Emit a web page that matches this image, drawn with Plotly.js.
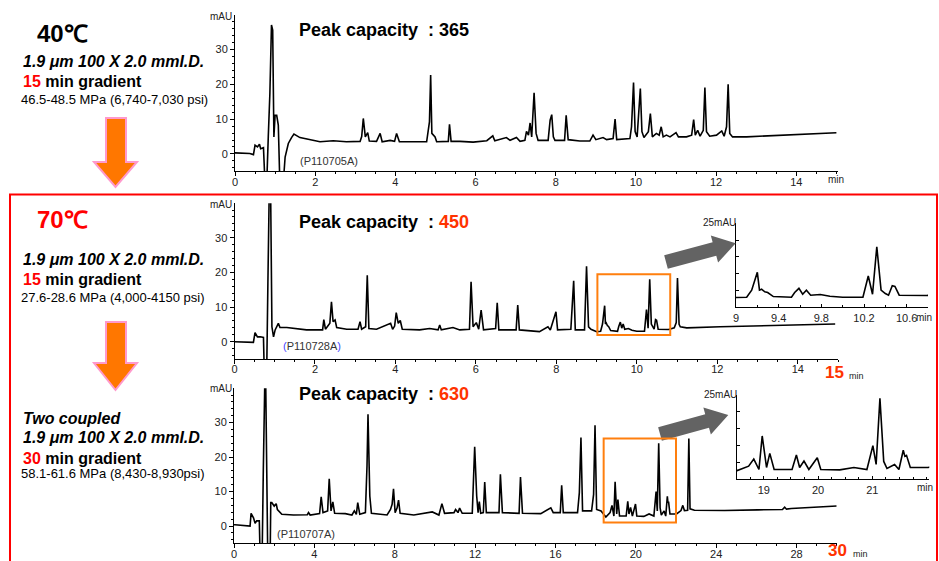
<!DOCTYPE html>
<html><head><meta charset="utf-8">
<script src="https://cdn.plot.ly/plotly-3.0.1.min.js"></script>
<style>html,body{margin:0;padding:0;background:#fff}#chart{width:939px;height:561px}</style>
</head><body><div id="chart"></div>
<script>
// ---- Data ----
// 40 C, 15 min gradient (P110705A)
const run40_t   = [0.0,0.04,0.37,0.46,0.5,0.56,0.61,0.64,0.71,0.75,0.79,0.83,0.87,0.91,0.94,0.97,1.0,1.04,1.08,1.12,1.2,1.25,1.33,1.41,1.47,1.62,1.87,2.12,2.45,2.78,3.12,3.16,3.2,3.25,3.31,3.35,3.53,3.62,3.67,3.87,3.98,4.03,4.1,4.45,4.78,4.85,4.88,4.91,4.99,5.03,5.32,5.35,5.39,5.61,5.94,6.28,6.43,6.48,6.77,6.86,7.02,7.11,7.23,7.27,7.32,7.36,7.4,7.46,7.51,7.56,7.81,7.86,7.9,7.94,7.98,8.22,8.26,8.31,8.6,8.85,8.93,9.0,9.18,9.27,9.43,9.48,9.52,9.85,9.89,9.94,9.98,10.03,10.07,10.11,10.15,10.2,10.31,10.36,10.41,10.51,10.58,10.63,10.68,10.76,10.85,11.0,11.06,11.26,11.39,11.44,11.48,11.54,11.6,11.68,11.72,11.76,11.84,12.01,12.14,12.2,12.26,12.3,12.34,12.41,12.76,13.26,13.92,14.42,15.0];
const run40_mAU = [0.3,0.3,0.1,-0.2,2.5,2.0,2.8,1.5,1.8,-9,-9,4.9,17.4,37.1,35.6,4.9,11.1,11.1,8.3,-9,-9,-0.9,3.0,4.7,5.7,4.7,4.1,3.5,3.8,3.5,3.6,5.0,10.2,4.9,6.1,3.7,3.6,5.9,3.5,3.9,3.6,5.9,3.5,3.6,3.5,9.2,22.7,5.9,4.9,3.5,3.6,8.5,3.6,3.6,3.4,3.8,5.2,3.8,4.7,3.9,4.7,3.6,3.9,6.5,5.4,8.9,4.9,17.6,5.9,3.9,3.9,9.7,11.3,4.9,3.9,3.9,11.1,4.1,3.7,3.7,5.4,4.1,4.7,4.1,4.4,10.0,4.1,4.4,7.8,20.5,6.4,4.9,12.6,18.8,6.4,4.7,6.4,11.6,4.9,5.9,5.4,7.8,4.9,5.4,4.9,6.1,4.9,4.9,5.4,9.9,5.4,6.8,5.1,6.8,19.1,6.4,5.1,5.4,6.6,5.1,7.8,20.0,5.9,4.9,4.9,5.2,5.6,5.9,6.1];

// 70 C, 15 min gradient (P110728A)
const run70_t   = [0.0,0.06,0.47,0.51,0.57,0.64,0.72,0.74,0.8,0.83,0.86,0.9,0.93,0.97,1.01,1.09,1.13,1.3,1.55,1.79,2.04,2.19,2.22,2.26,2.37,2.41,2.45,2.5,2.54,2.79,3.07,3.12,3.16,3.26,3.3,3.34,3.53,3.88,3.93,3.98,4.02,4.07,4.12,4.17,4.6,4.85,5.06,5.1,5.14,5.43,5.6,5.84,5.88,5.93,6.01,6.07,6.13,6.19,6.49,6.53,6.57,7.0,7.04,7.08,7.58,7.79,7.85,7.99,8.03,8.36,8.43,8.47,8.7,8.75,8.8,8.86,9.0,9.1,9.147,9.2,9.22,9.24,9.27,9.297,9.35,9.52,9.55,9.59,9.625,9.66,9.70,9.79,9.88,10.0,10.19,10.24,10.28,10.32,10.36,10.40,10.43,10.465,10.49,10.53,10.7,10.79,10.93,10.98,11.01,11.05,11.08,11.24,12.07,12.9,13.73,14.56,14.93];
const run70_mAU = [0,0,-0.2,2.6,1.4,1.4,1.25,-9,-9,16.8,41,41,4.3,1.4,3.4,5.3,4.1,4.1,3.7,3.4,3.4,3.4,6.4,3.6,5.3,11.5,5.8,6.25,4.1,3.6,3.6,5.8,3.6,4.3,19.2,3.8,3.6,5.3,3.6,4.5,8.4,5.3,6.1,3.6,3.4,3.8,3.4,4.8,3.4,4.1,3.4,3.6,17.3,4.3,5.5,3.6,9.1,3.4,3.8,11.25,3.4,3.4,10.6,3.4,2.9,4.3,3.4,8.65,3.4,3.6,17.6,3.4,3.4,21.8,4.3,3.6,2.9,3.0,5.1,10.4,5.1,5.4,4.6,4.4,3.2,3.0,4.4,5.65,3.9,5.1,3.6,3.8,3.3,3.0,3.0,9.3,3.9,18.0,5.1,4.1,3.6,6.4,6.2,3.6,3.4,3.5,4.0,5.5,18.4,5.0,4.3,4.0,4.3,4.5,4.6,5.0,5.1];

// Two coupled columns, 30 min gradient (P110707A)
const run2col_t   = [0.0,0.05,0.8,0.85,0.97,1.05,1.13,1.26,1.3,1.4,1.46,1.53,1.58,1.63,1.68,1.8,1.83,1.88,2.0,2.1,2.16,2.38,2.96,3.65,3.71,3.79,4.26,4.34,4.43,4.66,4.74,4.83,4.92,5.01,5.54,5.87,5.99,6.09,6.16,6.26,6.54,6.62,6.67,6.76,6.84,7.62,7.79,7.87,7.94,8.02,8.12,8.19,8.27,8.95,9.62,9.87,10.2,10.35,10.48,10.95,11.03,11.15,11.23,11.36,11.86,11.98,12.08,12.15,12.21,12.28,12.41,12.48,12.56,13.19,13.26,13.36,14.19,14.26,14.36,15.27,15.77,15.89,16.24,16.31,16.39,17.1,17.19,17.27,17.35,17.8,17.9,17.97,18.05,18.27,18.51,18.72,18.815,18.91,18.97,19.05,19.11,19.19,19.52,19.60,19.66,19.74,19.83,19.985,20.05,20.4,20.66,20.9,21.01,21.07,21.14,21.21,21.27,21.41,21.49,21.57,21.60,21.63,21.70,21.85,22.03,22.25,22.34,22.42,22.58,22.64,22.7,22.92,24.42,26.08,27.3,27.41,27.5,27.74,30.0];
const run2col_mAU = [0.4,0.4,0,3.7,2.4,0.8,1.5,1.5,-9,-9,16.5,41,41,9.2,-9,-9,6.8,6.8,5.8,6.5,4.8,3.4,3.2,3.3,3.9,3.2,3.6,8.5,3.9,4.4,13.7,4.4,7.0,3.7,3.6,3.2,4.4,3.4,6.8,3.4,3.9,17.4,32.4,8.7,3.7,3.2,4.8,6.3,10.8,3.9,5.3,7.5,3.7,3.2,3.7,4.1,3.2,6.5,3.7,3.9,4.8,3.9,5.2,3.7,3.7,23.0,8.7,3.9,7.1,3.7,3.9,12.8,3.9,3.9,15.0,3.9,3.7,14.2,3.7,3.6,5.3,3.9,3.9,11.8,3.9,3.9,9.7,25.7,4.4,4.4,9.2,29.2,4.8,4.4,2.6,3.9,6.0,2.9,12.85,3.5,7.7,2.9,2.9,7.2,3.5,5.4,2.9,6.4,2.9,2.8,3.5,2.9,10.0,4.4,24.0,5.3,3.2,4.4,2.9,8.6,6.8,7.1,3.5,3.5,3.5,4.5,6.0,4.5,4.6,25.4,5.0,4.6,4.5,4.7,4.8,5.5,4.9,5.1,5.8];

// Tick labels
const ticks15 = [0,2,4,6,8,10,12,14];
const ticks30 = [0,4,8,12,16,20,24,28];
const ticksY  = [0,10,20,30];
const ticksInset70 = [9,9.4,9.8,10.2,10.6];
const ticksInset2col = [19,20,21];

// ---- Layout helpers ----
const W = 939, H = 561;
const FONT = 'Liberation Sans, Arial, sans-serif';
const px = x => x / W;
const py = y => 1 - y / H;
const poly = pts => 'M' + pts.map(p => px(p[0]).toFixed(5) + ',' + py(p[1]).toFixed(5)).join(' L') + ' Z';

function arrowPts(tail, tip, hw, HW, HL) {
  const dx = tip[0]-tail[0], dy = tip[1]-tail[1], L = Math.hypot(dx, dy);
  const u = [dx/L, dy/L], n = [-u[1], u[0]];
  const h = [tip[0]-HL*u[0], tip[1]-HL*u[1]];
  const off = (p, k) => [p[0]+k*n[0], p[1]+k*n[1]];
  return [off(tail,-hw), off(h,-hw), off(h,-HW), tip, off(h,HW), off(h,hw), off(tail,hw)];
}

const tickFont = {family: FONT, size: 11, color: '#222'};
const axBase = {showgrid:false, zeroline:false, showline:true, linecolor:'#000', linewidth:1,
  ticks:'outside', ticklen:4, tickcolor:'#000', tickfont:tickFont, fixedrange:true, automargin:false};

function mainX(dom, range, vals, minorD, anchor) {
  return Object.assign({}, axBase, {domain:dom, range:range, anchor:anchor, tickmode:'array', tickvals:vals,
    ticklabelstandoff:-4,
    minor:{dtick:minorD, tick0:0, ticks:'outside', ticklen:2, tickcolor:'#000'}});
}
function mainY(dom, anchor) {
  return Object.assign({}, axBase, {domain:dom, range:[-5,39.95], anchor:anchor, tickmode:'array', tickvals:ticksY,
    minor:{dtick:2, tick0:0, ticks:'outside', ticklen:2, tickcolor:'#000'}});
}
function insetX(dom, range, vals, minorD, tick0, anchor) {
  return Object.assign({}, axBase, {domain:dom, range:range, anchor:anchor, ticks:'inside', ticklen:3,
    tickmode:'array', tickvals:vals, tickfont:{family:FONT, size:11, color:'#222'},
    minor:{dtick:minorD, tick0:tick0, ticks:'inside', ticklen:2, tickcolor:'#000'}});
}
function insetY(dom, anchor) {
  return Object.assign({}, axBase, {domain:dom, range:[0,25], anchor:anchor, ticks:'inside', ticklen:3,
    tickmode:'linear', tick0:0, dtick:5, showticklabels:false});
}

const lineStyle = {color:'#000', width:1.6};
const traces = [
  {x:run40_t, y:run40_mAU, xaxis:'x', yaxis:'y', mode:'lines', line:lineStyle, hoverinfo:'skip'},
  {x:run70_t, y:run70_mAU, xaxis:'x2', yaxis:'y2', mode:'lines', line:lineStyle, hoverinfo:'skip'},
  {x:run2col_t, y:run2col_mAU, xaxis:'x3', yaxis:'y3', mode:'lines', line:lineStyle, hoverinfo:'skip'},
  {x:run70_t, y:run70_mAU, xaxis:'x4', yaxis:'y4', mode:'lines', line:{color:'#000', width:1.6}, hoverinfo:'skip'},
  {x:run2col_t, y:run2col_mAU, xaxis:'x5', yaxis:'y5', mode:'lines', line:{color:'#000', width:1.6}, hoverinfo:'skip'}
];

function ann(text, x, y, size, opts) {
  return Object.assign({text:text, x:px(x), y:py(y), xref:'paper', yref:'paper', showarrow:false,
    xanchor:'left', yanchor:'middle', font:{family:FONT, size:size, color:'#000'}}, opts || {});
}
const RED = '#ff0000', ORED = '#ff3300';
const spec = '<b><i>1.9 \u03bcm 100 X 2.0 mmI.D.</i></b>';
const sp = '\u00a0\u00a0';

const annotations = [
  ann('<b>40\u2103</b>', 62, 34, 24, {xanchor:'center'}),
  ann(spec, 21, 62, 16),
  ann('<b><span style="color:'+RED+'">15</span> min gradient</b>', 21, 81, 16),
  ann('46.5-48.5 MPa (6,740-7,030 psi)', 19, 99, 13),

  ann('<b>70\u2103</b>', 62, 219, 24, {xanchor:'center', font:{family:FONT, size:24, color:RED}}),
  ann(spec, 21, 259, 16),
  ann('<b><span style="color:'+RED+'">15</span> min gradient</b>', 21, 280, 16),
  ann('27.6-28.6 MPa (4,000-4150 psi)', 19, 297, 13),

  ann('<b><i>Two coupled</i></b>', 21, 418, 16),
  ann(spec, 21, 437, 16),
  ann('<b><span style="color:'+RED+'">30</span> min gradient</b>', 21, 458, 16),
  ann('58.1-61.6 MPa (8,430-8,930psi)', 19, 473, 13),

  ann('<b>Peak capacity'+sp+': 365</b>', 297, 30, 18),
  ann('<b>Peak capacity'+sp+': <span style="color:'+ORED+'">450</span></b>', 297, 222, 18),
  ann('<b>Peak capacity'+sp+': <span style="color:'+ORED+'">630</span></b>', 297, 394, 18),

  ann('(P110705A)', 298, 161, 11, {font:{family:FONT, size:11, color:'#333'}}),
  ann('<span style="color:#4444ff">(</span>P110728A<span style="color:#4444ff">)</span>', 281, 346, 11, {font:{family:FONT, size:11, color:'#333'}}),
  ann('(P110707A)', 275, 534, 11, {font:{family:FONT, size:11, color:'#333'}}),

  ann('mAU', 234, 17, 10, {xanchor:'right', font:{family:FONT, size:10, color:'#222'}}),
  ann('mAU', 234, 204, 10, {xanchor:'right', font:{family:FONT, size:10, color:'#222'}}),
  ann('mAU', 234, 388, 10, {xanchor:'right', font:{family:FONT, size:10, color:'#222'}}),

  ann('min', 836, 179, 10, {xanchor:'center', font:{family:FONT, size:10, color:'#222'}}),
  ann('<b>15</b>', 834, 372, 17, {xanchor:'center', font:{family:FONT, size:17, color:ORED}}),
  ann('min', 856, 376, 9, {xanchor:'center', font:{family:FONT, size:9, color:'#222'}}),
  ann('<b>30</b>', 837, 550, 17, {xanchor:'center', font:{family:FONT, size:17, color:ORED}}),
  ann('min', 860, 554, 9, {xanchor:'center', font:{family:FONT, size:9, color:'#222'}}),

  ann('25mAU', 738, 223, 10, {xanchor:'right', font:{family:FONT, size:10, color:'#222'}}),
  ann('25mAU', 739, 394, 10, {xanchor:'right', font:{family:FONT, size:10, color:'#222'}}),
  ann('min', 924, 317, 10, {xanchor:'center', font:{family:FONT, size:10, color:'#222'}}),
  ann('min', 925, 487, 10, {xanchor:'center', font:{family:FONT, size:10, color:'#222'}})
];

const ORANGE = '#ff7700', PINK = '#ff99cc', GREY = '#636363';
const shapes = [
  {type:'rect', xref:'paper', yref:'paper', x0:px(10), x1:px(937), y0:py(575), y1:py(194.5), line:{color:RED, width:2}},
  {type:'path', xref:'paper', yref:'paper', path:poly([[106,118],[126,118],[126,162],[137,162],[115.5,187],[94,162],[106,162]]), fillcolor:ORANGE, line:{color:PINK, width:2}},
  {type:'path', xref:'paper', yref:'paper', path:poly([[106,322],[126,322],[126,363],[137,363],[115.5,390],[94,363],[106,363]]), fillcolor:ORANGE, line:{color:PINK, width:2}},
  {type:'path', xref:'paper', yref:'paper', path:poly(arrowPts([666,262],[735.7,243.3],7,14,22)), fillcolor:GREY, line:{width:0}},
  {type:'path', xref:'paper', yref:'paper', path:poly(arrowPts([660,434],[728.3,415],7,14,22)), fillcolor:GREY, line:{width:0}},
  {type:'rect', xref:'x2', yref:'y2', x0:9.02, x1:10.83, y0:1.9, y1:19.5, line:{color:'#ff7f0e', width:2}},
  {type:'rect', xref:'x3', yref:'y3', x0:18.4, x1:22.0, y0:1.0, y1:25.4, line:{color:'#ff7f0e', width:2}}
];

const layout = {
  width:W, height:H, margin:{l:0, r:0, t:0, b:0}, showlegend:false,
  paper_bgcolor:'#fff', plot_bgcolor:'rgba(0,0,0,0)',
  xaxis:  mainX([px(235), px(838)], [0,15.04], ticks15, 0.5, 'y'),
  yaxis:  mainY([py(171.3), py(15)], 'x'),
  xaxis2: mainX([px(234.5), px(838)], [0,15.0], ticks15, 0.5, 'y2'),
  yaxis2: mainY([py(359), py(203.3)], 'x2'),
  xaxis3: mainX([px(234), px(836.7)], [0,30.0], ticks30, 1, 'y3'),
  yaxis3: mainY([py(543.3), py(388.3)], 'x3'),
  xaxis4: insetX([px(736), px(928)], [9,10.8], ticksInset70, 0.2, 9, 'y4'),
  yaxis4: insetY([py(307.3), py(223.3)], 'x4'),
  xaxis5: insetX([px(736.7), px(929.3)], [18.5,22.05], ticksInset2col, 0.25, 19, 'y5'),
  yaxis5: insetY([py(479.3), py(395)], 'x5'),
  annotations:annotations, shapes:shapes
};

Plotly.newPlot('chart', traces, layout, {staticPlot:true, displayModeBar:false});
</script></body></html>
